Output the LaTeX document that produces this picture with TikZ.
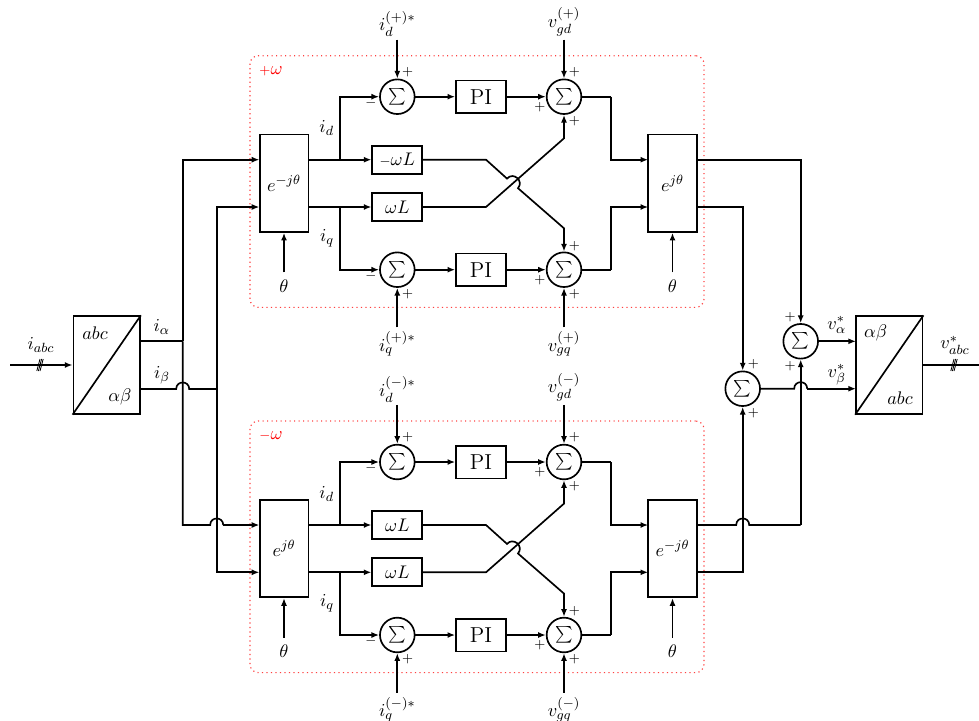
\documentclass[tikz,border=0pt]{standalone}
\usepackage{amsmath, amssymb}
\usepackage{xcolor}
\usetikzlibrary{
  arrows.meta
}
\tikzset{
  blockbox/.style={draw, line width=1pt, inner sep=0pt, minimum width=29.2pt, minimum height=58.4pt},
  gainbox/.style={draw, line width=1pt, inner sep=0pt, minimum width=30pt, minimum height=16.8pt},
  pibox/.style={draw, line width=1pt, inner sep=0pt, minimum width=30pt, minimum height=19.6pt, font=\fontsize{13}{15}\selectfont},
  convbox/.style={draw, line width=1pt, inner sep=0pt, minimum width=40pt, minimum height=58.6pt},
  sumcirc/.style={draw, circle, line width=1pt, inner sep=0pt, minimum size=20.8pt, font=\normalsize},
  grpbox/.style={draw=red!75, dotted, line width=0.7pt, rounded corners=5pt, minimum width=272.4pt, minimum height=151pt},
  sgnlab/.style={font=\footnotesize, inner sep=0pt},
  txtlab/.style={inner sep=0pt},
  sigline/.style={line width=1pt},
  sigarrow/.style={line width=1pt, -{Latex[length=4.6pt,width=3.6pt]}}
}
\newcommand{\sumsym}{$\textstyle\sum$}
\begin{document}
\begin{tikzpicture}[x=0.6pt,y=-0.6pt,every node/.style={font=\fontsize{10.95}{13}\selectfont}]
  \useasboundingbox (0,0) rectangle (979,720);

  % the two control groups
  \foreach \blk/\dy/\sgn/\lexp/\rexp/\gtop in {p/0/+/{-j\theta}/{j\theta}/{{\scriptstyle -}\omega L},n/365.3/-/{j\theta}/{-j\theta}/{\omega L}}{
    \node[grpbox] (\blk grp) at (477,181.5+\dy) {};
    \node[txtlab, red] (\blk grplab) at (271,71+\dy) {${\scriptstyle\sgn}\omega$};
    % blocks
    \node[blockbox] (\blk rotL) at (284,183.3+\dy) {$e^{\lexp}$};
    \node[blockbox] (\blk rotR) at (672.5,183.3+\dy) {$e^{\rexp}$};
    \node[sumcirc] (\blk sumA) at (397.3,96.7+\dy) {\sumsym};
    \node[sumcirc] (\blk sumB) at (564,96.7+\dy) {\sumsym};
    \node[sumcirc] (\blk sumC) at (397.3,269.7+\dy) {\sumsym};
    \node[sumcirc] (\blk sumD) at (564,269.7+\dy) {\sumsym};
    \node[pibox] (\blk piA) at (481,96.7+\dy) {PI};
    \node[pibox] (\blk piB) at (481,269.7+\dy) {PI};
    \node[gainbox] (\blk gainA) at (397.3,159.7+\dy) {$\gtop$};
    \node[gainbox] (\blk gainB) at (397.3,207+\dy) {$\omega L$};
    % texts
    \node[txtlab] (\blk refA) at (397.3,24+\dy) {$i_d^{(\sgn)*}$};
    \node[txtlab] (\blk refB) at (564,22+\dy) {$v_{gd}^{(\sgn)}$};
    \node[txtlab] (\blk refC) at (397.3,344+\dy) {$i_q^{(\sgn)*}$};
    \node[txtlab] (\blk refD) at (564,344+\dy) {$v_{gq}^{(\sgn)}$};
    \node[txtlab] (\blk thL) at (284,285.7+\dy) {$\theta$};
    \node[txtlab] (\blk thR) at (672.5,285.7+\dy) {$\theta$};
    \node[txtlab] (\blk idlab) at (326.7,128.3+\dy) {$i_d$};
    \node[txtlab] (\blk iqlab) at (327,238.3+\dy) {$i_q$};
    % signs
    \node[sgnlab] (\blk sA) at (407.7,72.3+\dy) {$+$};
    \node[sgnlab] (\blk sB) at (371,102.7+\dy) {$-$};
    \node[sgnlab] (\blk sC) at (574.3,72.3+\dy) {$+$};
    \node[sgnlab] (\blk sD) at (540,107.3+\dy) {$+$};
    \node[sgnlab] (\blk sE) at (574.3,121+\dy) {$+$};
    \node[sgnlab] (\blk sF) at (371,276+\dy) {$-$};
    \node[sgnlab] (\blk sG) at (407.7,294+\dy) {$+$};
    \node[sgnlab] (\blk sH) at (574.3,245.7+\dy) {$+$};
    \node[sgnlab] (\blk sI) at (540,280.3+\dy) {$+$};
    \node[sgnlab] (\blk sJ) at (574.3,294+\dy) {$+$};
    % connection points
    \coordinate (\blk inA) at (259.4,159.7+\dy);
    \coordinate (\blk inB) at (259.4,207+\dy);
    \coordinate (\blk outA) at (308.6,159.7+\dy);
    \coordinate (\blk outB) at (308.6,207+\dy);
    \coordinate (\blk rinA) at (648.2,159.7+\dy);
    \coordinate (\blk rinB) at (648.2,207+\dy);
    \coordinate (\blk branchA) at (340,159.7+\dy);
    \coordinate (\blk branchB) at (340,207+\dy);
    \coordinate (\blk turnA) at (611.3,96.7+\dy);
    \coordinate (\blk turnB) at (611.3,269.7+\dy);
    \coordinate (\blk bendA) at (486,159.7+\dy);
    \coordinate (\blk bendB) at (486,207+\dy);
    \coordinate (\blk kneeA) at (564,228.3+\dy);
    \coordinate (\blk kneeB) at (564,138.3+\dy);
    \coordinate (\blk hopS) at (507,178.6+\dy);
    \coordinate (\blk hopE) at (518,188.2+\dy);
    \coordinate (\blk startA) at (397.3,39.5+\dy);
    \coordinate (\blk startB) at (564,39.5+\dy);
    \coordinate (\blk startC) at (397.3,327.3+\dy);
    \coordinate (\blk startD) at (564,327.3+\dy);
    \coordinate (\blk startL) at (284,272.3+\dy);
    \coordinate (\blk startR) at (672.5,272.3+\dy);
    % connectors
    \draw[sigline] (\blk outA) -- (\blk branchA);
    \draw[sigline] (\blk outB) -- (\blk branchB);
    \draw[sigarrow] (\blk branchA) -- (\blk gainA);
    \draw[sigarrow] (\blk branchB) -- (\blk gainB);
    \draw[sigarrow] (\blk branchA) |- (\blk sumA);
    \draw[sigarrow] (\blk branchB) |- (\blk sumC);
    \draw[sigarrow] (\blk sumA) -- (\blk piA);
    \draw[sigarrow] (\blk sumC) -- (\blk piB);
    \draw[sigarrow] (\blk piA) -- (\blk sumB);
    \draw[sigarrow] (\blk piB) -- (\blk sumD);
    \draw[sigarrow] (\blk startA) -- (\blk sumA);
    \draw[sigarrow] (\blk startB) -- (\blk sumB);
    \draw[sigarrow] (\blk startC) -- (\blk sumC);
    \draw[sigarrow] (\blk startD) -- (\blk sumD);
    \draw[sigarrow] (\blk startL) -- (\blk rotL);
    \draw[sigarrow] (\blk startR) -- (\blk rotR);
    \draw[sigline] (\blk sumB) -- (\blk turnA);
    \draw[sigline] (\blk sumD) -- (\blk turnB);
    \draw[sigarrow] (\blk turnA) |- (\blk rinA);
    \draw[sigarrow] (\blk turnB) |- (\blk rinB);
    % crossing with hop
    \draw[sigarrow] (\blk gainA) -- (\blk bendA) -- (\blk hopS)
      .. controls +(6.3,-7.2) and +(6.3,-7.2) .. (\blk hopE) -- (\blk kneeA) -- (\blk sumD);
    \draw[sigarrow] (\blk gainB) -- (\blk bendB) -- (\blk kneeB) -- (\blk sumB);
  }

  % input side
  \node[convbox] (abcA) at (106.7,365) {};
  \draw[line width=1pt] (abcA.south west) -- (abcA.north east);
  \node[txtlab] (abcAtop) at (95,333) {$abc$};
  \node[txtlab] (abcAbot) at (120,396.7) {$\alpha\beta$};
  \node[txtlab] (iabc) at (41,345) {$i_{abc}$};
  \node[txtlab] (ialpha) at (161.7,327) {$i_\alpha$};
  \node[txtlab] (ibeta) at (162,375) {$i_\beta$};
  \coordinate (inS) at (10,365);
  \coordinate (aOut) at (140,341.3);
  \coordinate (bOut) at (140,389);
  \coordinate (aJoin) at (182.7,341.3);
  \coordinate (bJoin) at (216.7,389);
  \coordinate (hopAS) at (176.2,389);
  \coordinate (hopAE) at (189.2,389);
  \coordinate (hopBS) at (210.2,525);
  \coordinate (hopBE) at (223.2,525);
  \coordinate (aDown) at (182.7,525);
  \draw[sigarrow] (inS) -- (abcA);
  \foreach \k in {-1.6,0,1.6}{
    \draw[line width=0.5pt] (40+\k-1.6,371) -- (40+\k+1.6,359);
  }
  \draw[sigline] (aOut) -- (aJoin);
  \draw[sigline] (bOut) -- (hopAS) .. controls +(0,-8.7) and +(0,-8.7) .. (hopAE) -- (bJoin);
  \draw[sigarrow] (aJoin) |- (pinA);
  \draw[sigarrow] (bJoin) |- (pinB);
  \draw[sigline] (aJoin) -- (aDown) -- (hopBS) .. controls +(0,-8.7) and +(0,-8.7) .. (hopBE);
  \draw[sigarrow] (hopBE) -- (ninA);
  \draw[sigarrow] (bJoin) |- (ninB);

  % output side
  \node[sumcirc] (sumLow) at (742.7,388.7) {\sumsym};
  \node[sumcirc] (sumUp) at (800.7,341.3) {\sumsym};
  \node[convbox] (abcB) at (889.3,365) {};
  \draw[line width=1pt] (abcB.south west) -- (abcB.north east);
  \node[txtlab] (abcBtop) at (875.7,332.7) {$\alpha\beta$};
  \node[txtlab] (abcBbot) at (900,398) {$abc$};
  \node[txtlab] (valpha) at (836.7,325) {$v_\alpha^*$};
  \node[txtlab] (vbeta) at (836.7,375) {$v_\beta^*$};
  \node[txtlab] (vabc) at (955,345) {$v_{abc}^*$};
  \node[sgnlab] (sUpA) at (790,316.7) {$+$};
  \node[sgnlab] (sUpB) at (790,366) {$+$};
  \node[sgnlab] (sLowA) at (753.3,364) {$+$};
  \node[sgnlab] (sLowB) at (753.3,413.3) {$+$};
  \coordinate (pOutA) at (696.8,159.7);
  \coordinate (pOutB) at (696.8,207);
  \coordinate (nOutA) at (696.8,525);
  \coordinate (nOutB) at (696.8,572.3);
  \coordinate (hopCS) at (736.2,525);
  \coordinate (hopCE) at (749.2,525);
  \coordinate (hopDS) at (794.2,388.7);
  \coordinate (hopDE) at (807.2,388.7);
  \coordinate (upFoot) at (800.7,525);
  \coordinate (lowFoot) at (742.7,572.3);
  \coordinate (convIn) at (856,388.7);
  \coordinate (convUp) at (856,341.3);
  \coordinate (convOut) at (922.7,365);
  \coordinate (outE) at (979,365);
  \draw[sigarrow] (pOutA) -| (sumUp);
  \draw[sigarrow] (pOutB) -| (sumLow);
  \draw[sigline] (nOutA) -- (hopCS) .. controls +(0,-8.7) and +(0,-8.7) .. (hopCE) -- (upFoot);
  \draw[sigarrow] (upFoot) -- (sumUp);
  \draw[sigarrow] (nOutB) -- (lowFoot) -- (sumLow);
  \draw[sigline] (sumLow) -- (hopDS) .. controls +(0,-8.7) and +(0,-8.7) .. (hopDE);
  \draw[sigarrow] (hopDE) -- (convIn);
  \draw[sigarrow] (sumUp) -- (convUp);
  \draw[sigline] (convOut) -- (outE);
  \foreach \k in {-1.6,0,1.6}{
    \draw[line width=0.5pt] (954+\k-1.6,371) -- (954+\k+1.6,359);
  }
\end{tikzpicture}
\end{document}
